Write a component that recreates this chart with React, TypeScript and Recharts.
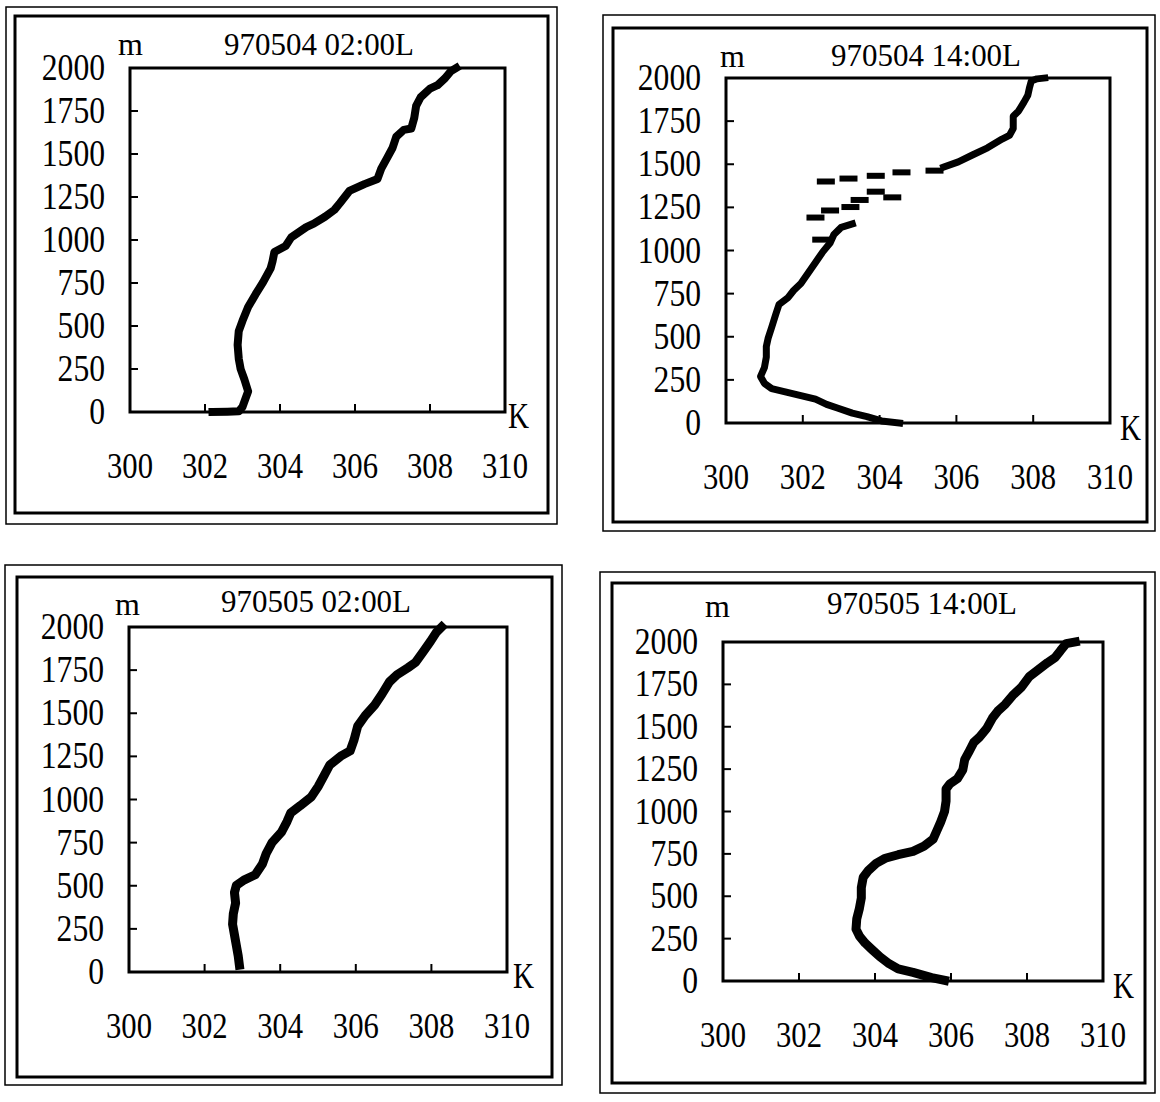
import React from 'react';
import { ComposedChart, Line, Scatter, XAxis, YAxis, ReferenceArea } from 'recharts';

// potential temperature (K) vs height (m), four soundings
const TEMP_TICKS = [300, 302, 304, 306, 308, 310];
const HEIGHT_TICKS = [0, 250, 500, 750, 1000, 1250, 1500, 1750, 2000];

// 970504 02:00L
const p1Temp = [302.2, 302.6, 302.9, 303.0, 303.05, 303.15, 303.05, 302.95, 302.9, 302.87, 302.9, 303.0, 303.15, 303.35, 303.55, 303.75, 303.8, 303.85, 304.15, 304.3, 304.7, 304.9, 305.2, 305.45, 305.6, 305.85, 306.25, 306.6, 306.7, 306.85, 307.0, 307.1, 307.3, 307.5, 307.58, 307.63, 307.75, 308.0, 308.2, 308.4, 308.55, 308.7];
const p1Height = [0, 2, 4, 30, 60, 120, 190, 250, 310, 390, 470, 530, 610, 685, 755, 835, 875, 930, 965, 1015, 1075, 1095, 1135, 1175, 1215, 1285, 1325, 1355, 1415, 1475, 1535, 1600, 1640, 1648, 1710, 1780, 1830, 1880, 1900, 1940, 1980, 2000];

// 970504 14:00L (lower trace, scattered returns, upper trace)
const p2LowTemp = [304.52, 304.05, 303.67, 303.29, 302.9, 302.62, 302.33, 301.95, 301.57, 301.19, 301.0, 300.9, 301.0, 301.05, 301.05, 301.1, 301.19, 301.29, 301.38, 301.62, 301.76, 301.95, 302.14, 302.33, 302.52, 302.71, 302.81, 303.0, 303.29];
const p2LowHeight = [0, 12, 37, 57, 87, 108, 138, 159, 179, 199, 230, 270, 321, 382, 443, 494, 555, 626, 687, 728, 768, 809, 870, 931, 992, 1043, 1093, 1134, 1154];
const p2DashTemp = [302.48, 302.33, 302.71, 303.24, 303.48, 303.9, 304.33, 302.6, 303.19, 303.9, 304.57, 305.43];
const p2DashHeight = [1063, 1191, 1232, 1252, 1293, 1341, 1308, 1400, 1417, 1433, 1453, 1463];
const p2HighTemp = [305.67, 306.05, 306.43, 306.81, 307.19, 307.38, 307.48, 307.48, 307.62, 307.76, 307.86, 307.9, 307.95, 308.1, 308.3];
const p2HighHeight = [1484, 1514, 1555, 1595, 1646, 1667, 1707, 1778, 1809, 1860, 1900, 1941, 1982, 1995, 2000];

// 970505 02:00L
const p3Temp = [302.92, 302.89, 302.84, 302.79, 302.74, 302.76, 302.82, 302.79, 302.84, 303.04, 303.34, 303.53, 303.63, 303.78, 304.03, 304.18, 304.28, 304.53, 304.82, 305.01, 305.16, 305.31, 305.6, 305.85, 305.95, 306.05, 306.25, 306.5, 306.69, 306.89, 307.09, 307.38, 307.58, 307.78, 307.98, 308.13, 308.27];
const p3Height = [40, 92, 154, 215, 277, 338, 400, 461, 502, 533, 564, 626, 687, 749, 810, 872, 923, 964, 1015, 1077, 1138, 1200, 1251, 1282, 1343, 1425, 1487, 1548, 1610, 1682, 1723, 1764, 1795, 1856, 1918, 1969, 2000];

// 970505 14:00L
const p4Temp = [305.83, 305.49, 305.0, 304.61, 304.37, 304.13, 303.93, 303.74, 303.59, 303.5, 303.52, 303.59, 303.64, 303.64, 303.69, 303.83, 304.03, 304.27, 304.61, 305.0, 305.29, 305.53, 305.63, 305.73, 305.83, 305.87, 305.87, 305.97, 306.17, 306.31, 306.36, 306.46, 306.6, 306.75, 306.94, 307.09, 307.23, 307.43, 307.62, 307.86, 308.06, 308.3, 308.54, 308.74, 308.88, 309.03, 309.27];
const p4Height = [4, 20, 51, 71, 102, 143, 184, 224, 265, 306, 367, 429, 490, 551, 612, 653, 694, 724, 745, 765, 796, 837, 888, 939, 1000, 1061, 1133, 1163, 1194, 1245, 1306, 1347, 1408, 1439, 1490, 1551, 1592, 1633, 1684, 1735, 1796, 1837, 1878, 1908, 1949, 1990, 2000];

const toRows = (t: number[], h: number[]) => t.map((v, i) => ({ t: v, h: h[i] }));

const FONT = '"Liberation Serif", "DejaVu Serif", serif';
const AXIS_W = 130;
const AXIS_H = 90;
const TOP_M = 60;
const RIGHT_M = 50;

const PANELS = [
  {
    title: '970504 02:00L',
    lines: [toRows(p1Temp, p1Height)],
    dashes: null as null | { t: number; h: number }[],
    strokeWidth: 8,
    plot: [130, 68, 505, 412],
    inner: [15, 16, 548, 513],
    outer: [6, 7, 557, 524],
    titleAt: [224, 55],
    mAt: [118, 55],
    kAt: [508, 428],
  },
  {
    title: '970504 14:00L',
    lines: [toRows(p2LowTemp, p2LowHeight), toRows(p2HighTemp, p2HighHeight)],
    dashes: toRows(p2DashTemp, p2DashHeight),
    strokeWidth: 7,
    plot: [726, 78, 1110, 423],
    inner: [613, 28, 1147, 522],
    outer: [603, 15, 1155, 531],
    titleAt: [831, 66],
    mAt: [720, 67],
    kAt: [1120, 440],
  },
  {
    title: '970505 02:00L',
    lines: [toRows(p3Temp, p3Height)],
    dashes: null,
    strokeWidth: 9,
    plot: [129, 627, 507, 972],
    inner: [17, 577, 552, 1077],
    outer: [5, 565, 562, 1085],
    titleAt: [221, 612],
    mAt: [115, 615],
    kAt: [513, 988],
  },
  {
    title: '970505 14:00L',
    lines: [toRows(p4Temp, p4Height)],
    dashes: null,
    strokeWidth: 9,
    plot: [723, 642, 1103, 981],
    inner: [612, 583, 1145, 1083],
    outer: [600, 572, 1155, 1093],
    titleAt: [827, 614],
    mAt: [705, 617],
    kAt: [1113, 998],
  },
];

function HeightTick(props: any) {
  const { x, y, payload } = props;
  const v = payload.value;
  const label = String(v);
  const edge = v === 0 || v === 2000;
  return (
    <g>
      {!edge && <line x1={x} x2={x + 8} y1={y} y2={y} stroke="#000" strokeWidth={2} />}
      <text
        x={x - 25}
        y={y + 12}
        textAnchor="end"
        fontFamily={FONT}
        fontSize={37}
        fill="#000"
        textLength={label.length * 15.8}
        lengthAdjust="spacingAndGlyphs"
      >
        {label}
      </text>
    </g>
  );
}

function TempTick(props: any) {
  const { x, y, payload } = props;
  const v = payload.value;
  const edge = v === 300 || v === 310;
  return (
    <g>
      {!edge && <line x1={x} x2={x} y1={y} y2={y - 8} stroke="#000" strokeWidth={2} />}
      <text
        x={x}
        y={y + 66}
        textAnchor="middle"
        fontFamily={FONT}
        fontSize={35}
        fill="#000"
        textLength={46}
        lengthAdjust="spacingAndGlyphs"
      >
        {v}
      </text>
    </g>
  );
}

const Dash = (props: any) => <rect x={props.cx - 9} y={props.cy - 3} width={18} height={6} fill="#000" />;

function ProfileChart({ panel }: { panel: (typeof PANELS)[number] }) {
  const [l, t, r, b] = panel.plot;
  return (
    <div style={{ position: 'absolute', left: l - AXIS_W, top: t - TOP_M }}>
      <ComposedChart
        width={r - l + AXIS_W + RIGHT_M}
        height={b - t + TOP_M + AXIS_H}
        margin={{ top: TOP_M, right: RIGHT_M, bottom: 0, left: 0 }}
      >
        <XAxis
          dataKey="t"
          type="number"
          domain={[300, 310]}
          ticks={TEMP_TICKS}
          interval={0}
          height={AXIS_H}
          tickSize={0}
          tickMargin={0}
          tickLine={false}
          axisLine={false}
          tick={<TempTick />}
        />
        <YAxis
          dataKey="h"
          type="number"
          domain={[0, 2000]}
          ticks={HEIGHT_TICKS}
          interval={0}
          width={AXIS_W}
          tickSize={0}
          tickMargin={0}
          tickLine={false}
          axisLine={false}
          tick={<HeightTick />}
        />
        <ReferenceArea x1={300} x2={310} y1={0} y2={2000} fill="none" fillOpacity={0} stroke="#000" strokeWidth={3} ifOverflow="visible" />
        {panel.lines.map((rows, i) => (
          <Line
            key={i}
            data={rows}
            dataKey="h"
            type="linear"
            stroke="#000"
            strokeWidth={panel.strokeWidth}
            strokeLinejoin="round"
            strokeLinecap="square"
            dot={false}
            activeDot={false}
            isAnimationActive={false}
          />
        ))}
        {panel.dashes && <Scatter data={panel.dashes} dataKey="h" fill="#000" shape={Dash} isAnimationActive={false} />}
      </ComposedChart>
    </div>
  );
}

export default function App() {
  return (
    <div style={{ position: 'absolute', left: 0, top: 0, width: 1160, height: 1102, background: '#fff', overflow: 'hidden' }}>
      {PANELS.map((p) => (
        <ProfileChart key={p.title} panel={p} />
      ))}
      <svg width={1160} height={1102} style={{ position: 'absolute', left: 0, top: 0, pointerEvents: 'none' }}>
        {PANELS.map((p) => (
          <g key={p.title}>
            <rect x={p.outer[0]} y={p.outer[1]} width={p.outer[2] - p.outer[0]} height={p.outer[3] - p.outer[1]} fill="none" stroke="#000" strokeWidth={1.5} />
            <rect x={p.inner[0]} y={p.inner[1]} width={p.inner[2] - p.inner[0]} height={p.inner[3] - p.inner[1]} fill="none" stroke="#000" strokeWidth={3} />
            <text x={p.titleAt[0]} y={p.titleAt[1]} fontFamily={FONT} fontSize={32} fill="#000" textLength={190} lengthAdjust="spacingAndGlyphs">
              {p.title}
            </text>
            <text x={p.mAt[0]} y={p.mAt[1]} fontFamily={FONT} fontSize={32} fill="#000">
              m
            </text>
            <text x={p.kAt[0]} y={p.kAt[1]} fontFamily={FONT} fontSize={36} fill="#000" textLength={21} lengthAdjust="spacingAndGlyphs">
              K
            </text>
          </g>
        ))}
      </svg>
    </div>
  );
}
